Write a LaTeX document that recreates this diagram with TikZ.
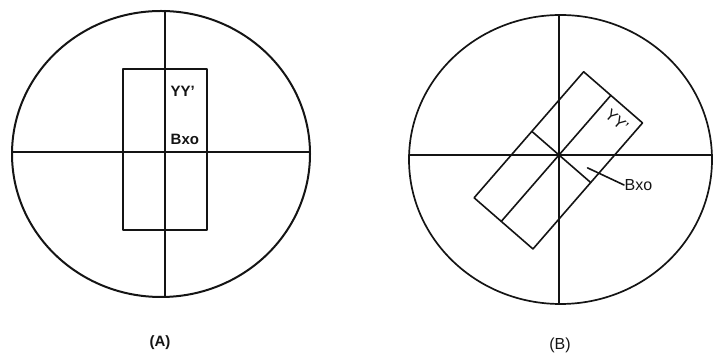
\documentclass[tikz,border=0pt]{standalone}
\usepackage{fontspec}
\setmainfont{Liberation Sans}
\usepackage{tikz}
\usetikzlibrary{positioning,calc,shapes.geometric}
\definecolor{ink}{HTML}{141414}
\tikzset{
    every picture/.style={line cap=round,line join=round},
    dial/.style={draw=ink,ellipse,line width=2pt,inner sep=0pt,outer sep=0pt},
    axisline/.style={draw=ink,line width=2pt},
    slab/.style={draw=ink,line width=2pt,inner sep=0pt,outer sep=0pt},
    tilted/.style={draw=ink,line width=1.6pt},
    tagA/.style={text=ink,font=\bfseries\fontsize{15}{17}\selectfont,
      inner sep=0.5pt,anchor=west},
    tagB/.style={text=ink,font=\fontsize{16}{18}\selectfont,inner sep=0.5pt},
    caption/.style={text=ink,inner sep=0pt}
}

\begin{document}
\begin{tikzpicture}[x=1pt,y=1pt]
  \useasboundingbox (0,0) rectangle (714,355);

  % (A) upright slab
  \node[dial,minimum width=298pt,minimum height=286pt] (dialA) at (161,201) {};
  \coordinate (oA) at (165,203);
  \draw[axisline] (dialA.west |- oA) -- (dialA.east |- oA);
  \draw[axisline] (oA |- dialA.north) -- (oA |- dialA.south);
  \node[slab,minimum width=84pt,minimum height=161pt] (slabA) at (165,205.5) {};
  \node[tagA] (yyA) at (170,264) {YY'};
  \node[tagA] (bxoA) at (170,216) {Bxo};
  \node[caption,font=\bfseries\fontsize{15}{17}\selectfont] (capA) at (160,12) {(A)};

  % (B) tilted slab
  \node[dial,line width=1.7pt,minimum width=303pt,minimum height=289pt] (dialB) at (560.5,195.5) {};
  \coordinate (oB) at (559,200);
  \draw[tilted] (dialB.west |- oB) -- (dialB.east |- oB);
  \draw[tilted] (oB |- dialB.north) -- (oB |- dialB.south);
  \begin{scope}[shift={(oB)},rotate=-41]
    \draw[tilted] (-36,-88) rectangle (42,79);
    \draw[tilted] (0,-88) -- (0,79);
    \draw[tilted] (-36,0) -- (42,0);
    \node[tagB,rotate=-41] (yyB) at (21,64) {YY'};
    \coordinate (leadB) at (30,9);
  \end{scope}
  \node[tagB,anchor=west] (bxoB) at (624,170) {Bxo};
  \draw[tilted] (leadB) -- (bxoB.west);
  \node[caption,font=\fontsize{16}{18}\selectfont] (capB) at (560,10) {(B)};
\end{tikzpicture}
\end{document}
